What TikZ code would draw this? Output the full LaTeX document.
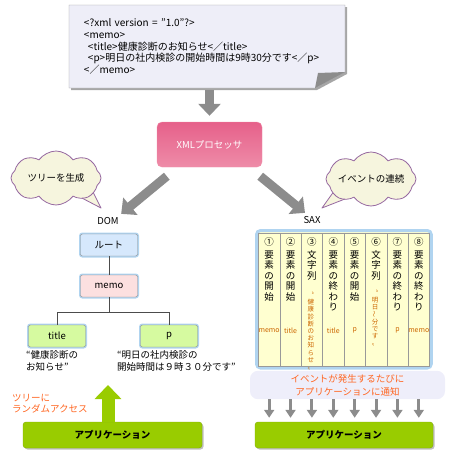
\documentclass[tikz,border=0pt]{standalone}
\usepackage{fontspec}
\setmainfont{Noto Sans CJK JP}
\usetikzlibrary{arrows.meta,shapes.symbols}
\definecolor{docfill}{RGB}{238,238,248}
\definecolor{procA}{RGB}{230,96,138}
\definecolor{procB}{RGB}{238,140,168}
\definecolor{cloudfill}{RGB}{246,245,222}
\definecolor{cloudline}{RGB}{150,104,160}
\definecolor{rootfill}{RGB}{214,232,252}
\definecolor{memofill}{RGB}{252,224,224}
\definecolor{leaffill}{RGB}{214,250,160}
\definecolor{glow}{RGB}{176,212,240}
\definecolor{appgreen}{RGB}{153,204,0}
\definecolor{colyellow}{RGB}{255,255,208}
\definecolor{orangetxt}{RGB}{255,102,34}
\definecolor{labbrown}{RGB}{204,102,0}
\definecolor{evfill}{RGB}{238,238,250}
\colorlet{arrowgray}{black!45}
\tikzstyle{bigarrow}=[line width=9pt, arrowgray, -{Triangle[width=22pt,length=12pt]}]
\tikzstyle{procbox}=[rectangle, rounded corners=5pt, top color=procA, bottom color=procB, draw=procB, minimum width=105pt, minimum height=45pt, text=white, font=\fontsize{9.5}{11}\selectfont]
\tikzstyle{cloudbox}=[cloud, cloud puffs=8, cloud puff arc=110, cloud ignores aspect, draw=cloudline, fill=cloudfill, line width=0.8pt, minimum width=90pt, minimum height=54pt, inner sep=0pt, font=\fontsize{9.5}{11}\selectfont]
\tikzstyle{cloudtail}=[draw=cloudline, fill=cloudfill, line width=0.8pt, line join=round]
\tikzstyle{treebox}=[rectangle, rounded corners=2pt, draw=black!45, minimum width=57pt, minimum height=22pt, preaction={draw=glow, line width=3pt}, font=\fontsize{9.5}{11}\selectfont]
\tikzstyle{treeline}=[black!70, line width=0.6pt]
\tikzstyle{quote}=[anchor=north west, align=left, inner sep=0pt, font=\fontsize{9.5}{12}\selectfont]
\tikzstyle{appbox}=[rectangle, rounded corners=3pt, fill=appgreen, draw=appgreen!85!black, minimum width=178pt, minimum height=26pt, preaction={fill=black!25, transform canvas={xshift=1.5pt,yshift=-1.5pt}}, font=\fontsize{9.5}{11}\selectfont\bfseries]
\tikzstyle{saxcol}=[rectangle, draw=black!40, fill=colyellow, minimum width=21.375pt, minimum height=133pt, inner sep=0pt]
\tikzstyle{tate}=[align=center, inner sep=0pt, anchor=north, font=\fontsize{9.5}{10.5}\selectfont]
\tikzstyle{tatesmall}=[align=center, inner sep=0pt, anchor=north, labbrown, font=\fontsize{6.5}{7.2}\selectfont]
\tikzstyle{saxlab}=[labbrown, inner sep=0pt, font=\fontsize{7}{8}\selectfont]
\tikzstyle{evbox}=[rectangle, rounded corners=8pt, fill=evfill, minimum width=195pt, minimum height=26pt, align=center, text=orangetxt, font=\fontsize{9.5}{13}\selectfont]
\tikzstyle{smallarrow}=[line width=3pt, arrowgray, -{Triangle[width=10pt,length=8pt]}, shorten >=4pt]

\begin{document}
\begin{tikzpicture}[x=1pt,y=-1pt]
\useasboundingbox (0,0) rectangle (456,459);
\fill[black!35] (71,7) -- (347,7) -- (347,74) -- (317,90) -- (71,90) -- cycle;
\draw[black!40, fill=docfill] (69,5) -- (345,5) -- (345,72) -- (315,88) -- (69,88) -- cycle;
\fill[black!45] (315,88) -- (318,73) -- (345,72) -- cycle;
\node[minimum width=276pt, minimum height=83pt, inner xsep=15pt, text width=246pt, align=left, font=\fontsize{10}{11.6}\selectfont] (doc) at (207,46.5)
  {<?xml version = ”1.0”?>\\
   <memo>\\
   \hspace*{4pt}<title>健康診断のお知らせ<／title>\\
   \hspace*{4pt}<p>明日の社内検診の開始時間は9時30分です<／p>\\
   <／memo>};
\node[procbox] (proc) at (209.5,144.5) {XMLプロセッサ};
\draw[bigarrow, shorten <=2pt, shorten >=6pt] (doc.south -| proc) -- (proc);

\draw[cloudtail] (78,196) -- (101,208) -- (90,186) -- cycle;
\node[cloudbox] (cl) at (56,178) {ツリーを生成};
\draw[cloudtail] (350,197) -- (322,208) -- (337,187) -- cycle;
\node[cloudbox] (cr) at (371,179) {イベントの連続};

\node[font=\fontsize{9.5}{11}\selectfont] (dom) at (108,221) {DOM};
\node[font=\fontsize{9.5}{11}\selectfont] (sax) at (312,220) {SAX};
\draw[bigarrow] ([xshift=10pt,yshift=-9pt]proc.south west) -- ([xshift=-1pt]dom.north east);
\draw[bigarrow] ([xshift=-2pt,yshift=-9pt]proc.south east) -- ([xshift=5pt]sax.north west);

\node[treebox, fill=rootfill] (root) at (109,245) {ルート};
\node[treebox, fill=memofill] (memo) at (109,286) {memo};
\node[treebox, fill=leaffill] (title) at (57,336) {title};
\node[treebox, fill=leaffill] (p) at (169,336) {p};
\coordinate (split) at (109,312);
\draw[treeline] (root) -- (memo) (memo) -- (split) -| (title) (split) -| (p);
\node[quote] (tq) at (26,350) {“健康診断の\\お知らせ”};
\node[quote] (pq) at (117,350) {“明日の社内検診の\\開始時間は９時３０分です”};

\node[quote, anchor=west, text=orangetxt, align=left, font=\fontsize{9.5}{11.5}\selectfont] (ra) at (12,403.5) {ツリーに\\ランダムアクセス};
\node[appbox, minimum width=179pt] (app1) at (112.5,435) {アプリケーション};
\coordinate (acc) at (108,385);
\draw[line width=13pt, appgreen, -{Triangle[width=26pt,length=14pt]}] (app1.north -| acc) -- (acc);

\draw[glow, line width=3pt, rounded corners=4pt, fill=colyellow] (256.5,230.5) rectangle (431.3,368);
\foreach \i/\txt/\lab in {1/{①\\[2.5pt]要\\素\\の\\開\\始}/memo,
  2/{②\\[2.5pt]要\\素\\の\\開\\始}/title,
  3/{③\\[2.5pt]文\\字\\列}/{},
  4/{④\\[2.5pt]要\\素\\の\\終\\わ\\り}/title,
  5/{⑤\\[2.5pt]要\\素\\の\\開\\始}/p,
  6/{⑥\\[2.5pt]文\\字\\列}/{},
  7/{⑦\\[2.5pt]要\\素\\の\\終\\わ\\り}/p,
  8/{⑧\\[2.5pt]要\\素\\の\\終\\わ\\り}/memo}{
  \node[saxcol] (s\i) at (247.8+21.375*\i, 299.5) {};
  \node[tate] at ([yshift=-4pt]s\i.north) {\txt};
  \node[saxlab] at ([yshift=-98pt]s\i.north) {\lab};
}
\node[tatesmall] at ([xshift=-1pt,yshift=-59pt]s3.north) {〝\\健\\康\\診\\断\\の\\お\\知\\ら\\せ\\〟};
\node[tatesmall] at ([xshift=-1pt,yshift=-57pt]s6.north) {〝\\明\\日\\\rotatebox{90}{～}\\分\\で\\す\\〟};

\node[evbox] (ev) at (347.5,385) {イベントが発生するたびに\\アプリケーションに通知};
\node[appbox] (app2) at (344,435) {アプリケーション};
\foreach \i in {1,...,8}
  \draw[smallarrow] (ev.south -| s\i) -- (app2.north -| s\i);
\end{tikzpicture}
\end{document}
